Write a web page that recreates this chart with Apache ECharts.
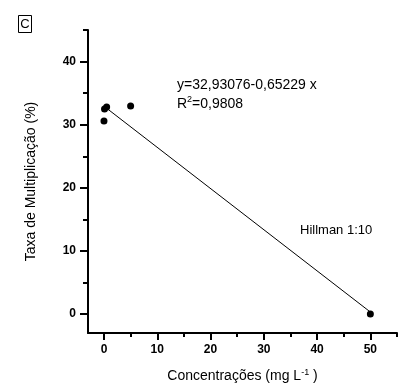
<!DOCTYPE html>
<html>
<head>
<meta charset="utf-8">
<script src="https://cdn.jsdelivr.net/npm/echarts@6/dist/echarts.min.js"></script>
<style>
  html, body { margin: 0; padding: 0; background: #fff; }
  #chart { width: 409px; height: 388px; }
</style>
</head>
<body>
<div id="chart"></div>
<script>
// measured points (concentration mg/L, multiplication rate %)
const concentrations = [0, 0.1, 0.5, 5, 50];
const rates = [30.6, 32.5, 32.8, 32.95, 0];

// linear fit y = 32,93076 - 0,65229 x, drawn over the data range
const fitX = [0, 50];
const fitY = [32.93, 0.32];

const xMajorTicks = [0, 10, 20, 30, 40, 50];
const xMinorTicks = [5, 15, 25, 35, 45, 55];
const yMajorTicks = [0, 10, 20, 30, 40];
const yMinorTicks = [5, 15, 25, 35, 45];

const FONT = '"Liberation Sans", Arial, sans-serif';

const chart = echarts.init(document.getElementById('chart'));

const tickLabel = {
  fontFamily: FONT,
  fontSize: 12,
  fontWeight: 'bold',
  color: '#000'
};

function valueAxis(extra) {
  return Object.assign({
    type: 'value',
    splitLine: { show: false },
    axisLine: { show: true, onZero: false, lineStyle: { color: '#000', width: 2 } }
  }, extra);
}

chart.setOption({
  animation: false,
  grid: { left: 88, right: 12, top: 30, bottom: 52 },
  xAxis: [
    valueAxis({
      min: -3, max: 55,
      axisTick: { show: true, length: 7, lineStyle: { width: 2, color: '#000' }, customValues: xMajorTicks },
      axisLabel: Object.assign({ margin: 11, customValues: xMajorTicks }, tickLabel),
      name: 'Concentrações (mg L{s|-1} )',
      nameLocation: 'middle',
      nameGap: 35,
      nameTextStyle: {
        fontFamily: FONT, fontSize: 14, color: '#000',
        rich: { s: { fontFamily: FONT, fontSize: 9, color: '#000', verticalAlign: 'top', padding: [0, 0, 7, 0] } }
      }
    }),
    valueAxis({
      min: -3, max: 55,
      position: 'bottom',
      axisLine: { show: false, onZero: false },
      axisTick: { show: true, length: 4, lineStyle: { width: 2, color: '#000' }, customValues: xMinorTicks },
      axisLabel: { show: false }
    })
  ],
  yAxis: [
    valueAxis({
      min: -3, max: 45,
      axisTick: { show: true, length: 8, lineStyle: { width: 2, color: '#000' }, customValues: yMajorTicks },
      axisLabel: Object.assign({ margin: 12, customValues: yMajorTicks }, tickLabel),
      name: 'Taxa de Multiplicação (%)',
      nameLocation: 'middle',
      nameGap: 50,
      nameTextStyle: { fontFamily: FONT, fontSize: 14, color: '#000' }
    }),
    valueAxis({
      min: -3, max: 45,
      position: 'left',
      axisLine: { show: false, onZero: false },
      axisTick: { show: true, length: 5, lineStyle: { width: 2, color: '#000' }, customValues: yMinorTicks },
      axisLabel: { show: false }
    })
  ],
  series: [
    {
      type: 'line',
      data: fitX.map((x, i) => [x, fitY[i]]),
      symbol: 'none',
      lineStyle: { color: '#000', width: 1 },
      silent: true
    },
    {
      type: 'scatter',
      data: concentrations.map((x, i) => [x, rates[i]]),
      symbol: 'circle',
      symbolSize: 7,
      itemStyle: { color: '#000', opacity: 1 },
      silent: true
    }
  ],
  graphic: [
    {
      type: 'rect',
      shape: { x: 18.5, y: 15.5, width: 13, height: 17 },
      style: { fill: 'none', stroke: '#000', lineWidth: 1 }
    },
    {
      type: 'text',
      x: 25, y: 24,
      style: { text: 'C', fontFamily: FONT, fontSize: 13, fill: '#000', align: 'center', verticalAlign: 'middle' }
    },
    {
      type: 'text',
      left: 177, top: 76,
      style: {
        text: 'y=32,93076-0,65229 x\n{r|R}{s|2}{r|=0,9808}',
        fontFamily: FONT, fontSize: 14, fill: '#000', lineHeight: 19,
        rich: {
          r: { fontFamily: FONT, fontSize: 14, fill: '#000' },
          s: { fontFamily: FONT, fontSize: 9, fill: '#000', verticalAlign: 'top', padding: [0, 0, 6, 0] }
        }
      }
    },
    {
      type: 'text',
      left: 300, top: 224,
      style: { text: 'Hillman 1:10', fontFamily: FONT, fontSize: 13, fill: '#000' }
    }
  ]
});
</script>
</body>
</html>
